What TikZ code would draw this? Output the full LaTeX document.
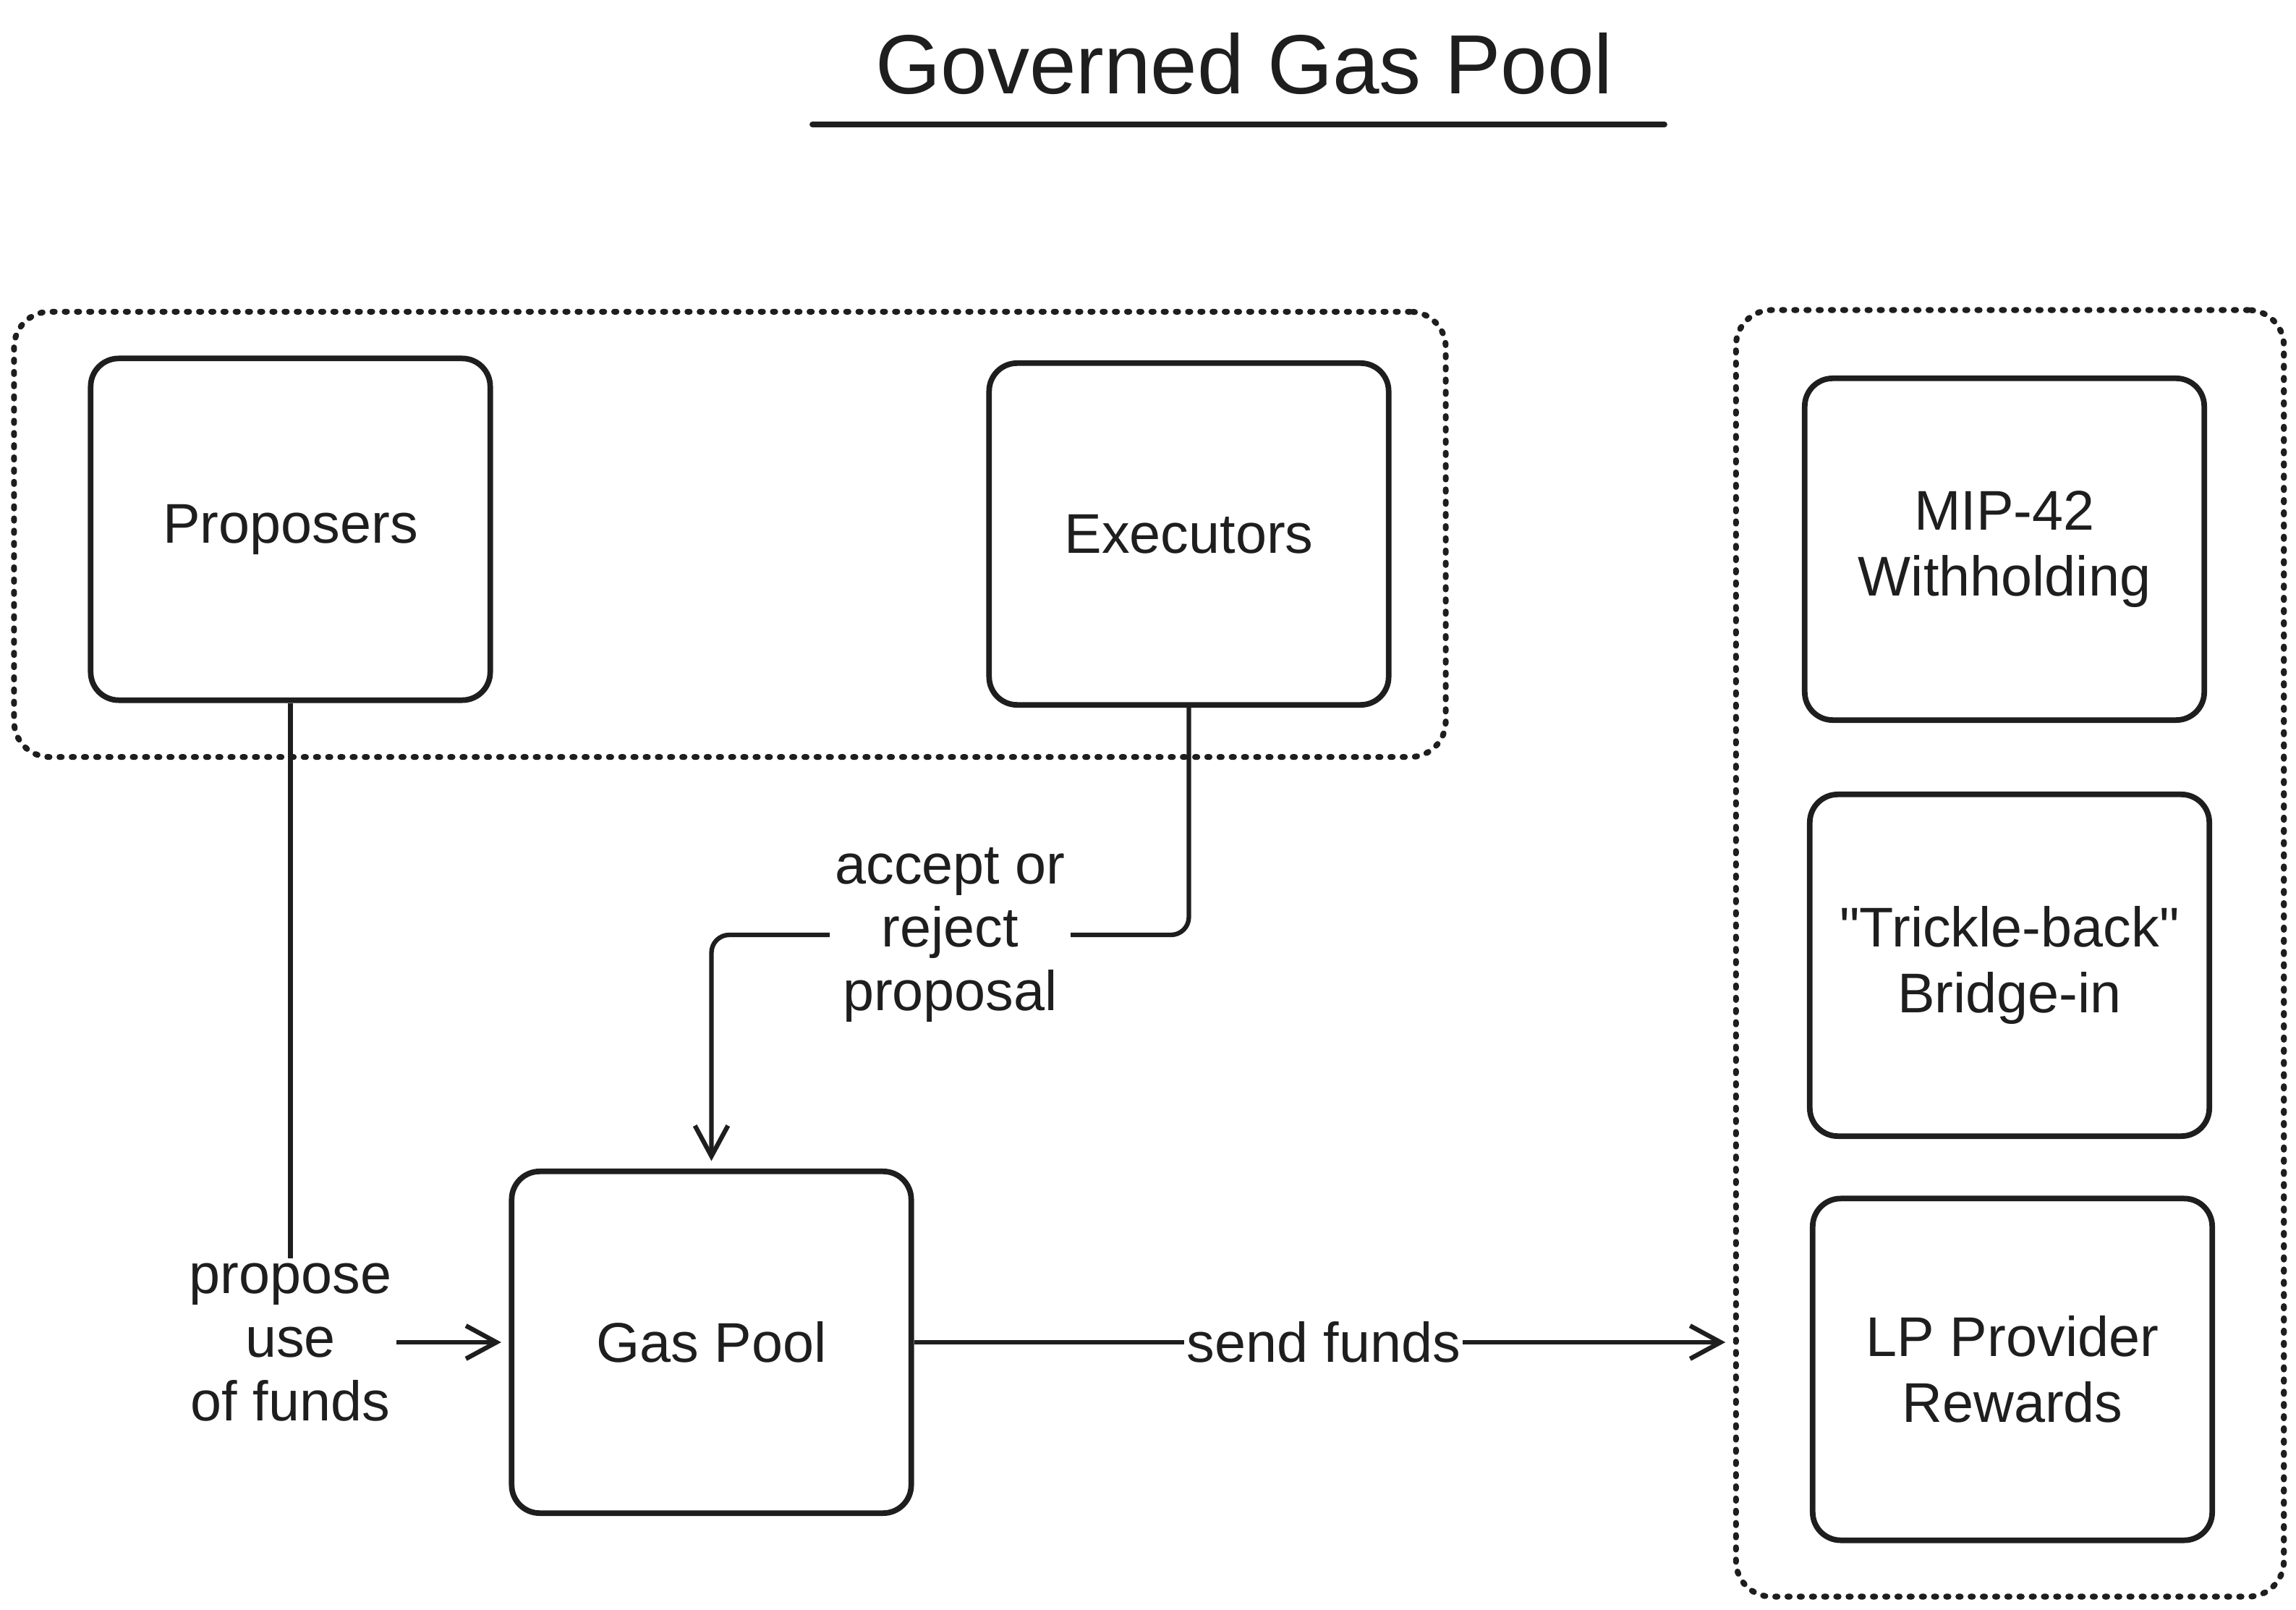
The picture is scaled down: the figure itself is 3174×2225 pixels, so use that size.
\documentclass[tikz,border=0pt]{standalone}
\usepackage{fontspec}
\setmainfont{Liberation Sans}
\usetikzlibrary{arrows.meta}
\definecolor{ink}{HTML}{1E1E1E}
\newcommand\straightquote{\XeTeXglyph\the\XeTeXcharglyph"22\relax}
\begin{document}
\begin{tikzpicture}[x=0.01cm,y=-0.01cm,
  every node/.style={text=ink},
  box/.style={draw=ink, line width=2.2pt, rounded corners=11pt, align=center,
    minimum width=5.52cm, minimum height=4.72cm, inner sep=0pt,
    font=\fontsize{22}{26}\selectfont},
  group/.style={draw=ink, line width=2.3pt, rounded corners=14pt, line cap=round,
    dash pattern=on 0.9pt off 3.9pt, inner sep=0pt},
  conn/.style={draw=ink, line width=1.8pt},
  arr/.style={conn, -{Straight Barb[length=12pt,width=13pt,line width=1.8pt]}, shorten >=3pt},
  lbl/.style={fill=white, align=center, inner sep=2pt, font=\fontsize{22}{25}\selectfont}
]
\useasboundingbox (0,0) rectangle (3174,2225);
% title
\node (title) at (1720,88) {\fontsize{33}{38}\selectfont Governed Gas Pool};
\coordinate (ul1) at (1123,172);
\coordinate (ul2) at (2301,172);
\draw[ink, line width=2.2pt, line cap=round] (ul1) -- (ul2);
% containers
\node[group, minimum width=19.78cm, minimum height=6.15cm] (leftgrp) at (1009,738.5) {};
\node[group, minimum width=7.57cm, minimum height=17.77cm] (rightgrp) at (2778.5,1317.5) {};
% boxes
\node[box] (prop) at (401.5,731.5) {Proposers};
\node[box] (exe) at (1643.5,738) {Executors};
\node[box] (mip) at (2771,759) {MIP-42\\Withholding};
\node[box] (trick) at (2778,1334) {\straightquote Trickle-back\straightquote\\Bridge-in};
\node[box] (lp) at (2782,1892.5) {LP Provider\\Rewards};
\node[box] (gas) at (983.5,1855) {Gas Pool};
% connectors
\draw[arr] (prop.south) |- node[lbl, pos=0.5] {propose\\use\\of funds} (gas.west);
\coordinate (ey) at (0,1292);
\draw[arr, rounded corners=7pt] (exe.south) -- (exe.south |- ey) -- (gas.north |- ey) -- (gas.north);
\path (exe.south |- ey) -- node[lbl] {accept or\\reject\\proposal} (gas.north |- ey);
\draw[arr] (gas.east) -- node[lbl, inner sep=1pt] {send funds} (gas.east -| rightgrp.west);
\end{tikzpicture}
\end{document}
